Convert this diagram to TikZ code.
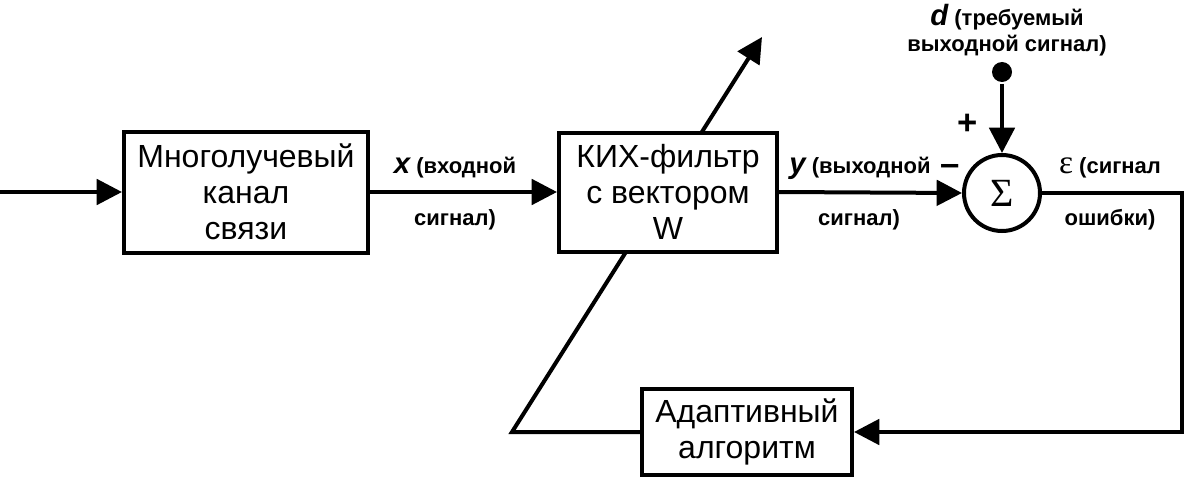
\documentclass[tikz,border=0pt]{standalone}
\usepackage{fontspec}
\setmainfont{Liberation Sans}
\newfontfamily\serifgr{Liberation Serif}
\usetikzlibrary{arrows.meta,backgrounds}

\tikzset{every picture/.style={line width=3pt}}
\tikzset{
  blok/.style={draw, fill=white, align=center, inner sep=0pt, font=\fontsize{24}{27}\selectfont},
  metka/.style={align=center, inner sep=0pt, font=\fontsize{16.5}{20}\selectfont\bfseries},
  strelka/.style={line width=3pt, -{Triangle[length=19pt,width=19pt]}}
}
\newcommand{\sig}[1]{{\fontsize{22}{22}\selectfont\bfseries\itshape #1}}

\begin{document}
\begin{tikzpicture}[x=0.75pt,y=0.75pt,yscale=-1,xscale=1]
\useasboundingbox (0,0) rectangle (1188,478); %set diagram size 1188 x 478

%Blocks
\node [blok, minimum width=183pt, minimum height=90.75pt] (kanal) at (246,192) {Многолучевый\\канал\\связи};
\node [blok, minimum width=163.5pt, minimum height=89.25pt] (filtr) at (668,192) {КИХ-фильтр\\с вектором\\W};
\node [blok, minimum width=157.5pt, minimum height=64.5pt] (algo) at (747,432) {Адаптивный\\алгоритм};
%Sum circle
\node [draw, fill=white, circle, minimum size=57pt, inner sep=0pt, font=\serifgr\fontsize{30}{30}\selectfont] (summa) at (1002,193) {Σ};
%Dot
\node [fill, circle, minimum size=15pt, inner sep=0pt] (tochka) at (1002,72) {};

\coordinate (vhod) at (0,192);
\coordinate (ugol) at (512,432);
\coordinate (konec) at (762,37);
\coordinate (pravo) at (1182,313);

%Connectors
\draw [strelka] (vhod) -- (kanal.west);
\draw [strelka] (kanal.east) -- (filtr.west);
\draw [strelka] (filtr.east) -- (summa.west);
\draw [strelka] (tochka) -- (summa.north);
\draw [strelka] (summa.east) -| (pravo) |- (algo.east);
\begin{scope}[on background layer]
\draw [strelka] (algo.west) -- (ugol) -- (konec);
\end{scope}

% Text Node
\node [metka] (xlab) at (455,168) {\sig{x} (входной};
% Text Node
\node [metka] (xlab2) at (455,220) {сигнал)};
% Text Node
\node [metka] (ylab) at (860,168) {\sig{y} (выходной};
% Text Node
\node [metka] (ylab2) at (859,220) {сигнал)};
% Text Node
\node [metka] (elab) at (1110,168) {{\serifgr\fontsize{25}{25}\mdseries ε} (сигнал};
% Text Node
\node [metka] (elab2) at (1110,220) {ошибки)};
% Text Node
\node [metka, font=\fontsize{16.5}{20}\selectfont\bfseries] (dlab) at (1007,30) {\sig{d} (требуемый\\выходной сигнал)};
% Text Node
\node [font=\fontsize{26}{26}\selectfont\bfseries, inner sep=0pt] (plus) at (968,124) {+};
% Text Node
\node [font=\fontsize{26}{26}\selectfont\bfseries, inner sep=0pt] (minus) at (950,170) {\textendash};

\end{tikzpicture}
\end{document}
